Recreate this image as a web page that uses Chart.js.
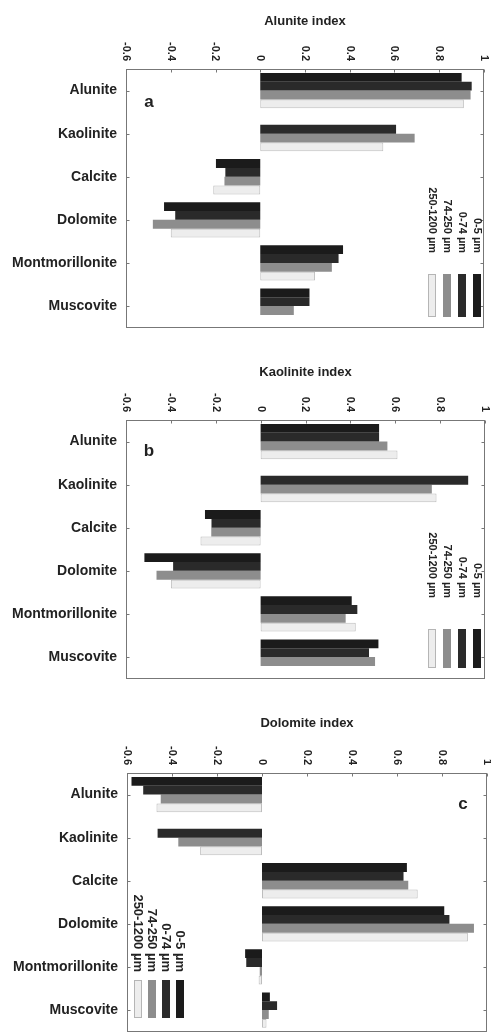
<!DOCTYPE html>
<html><head><meta charset="utf-8">
<script src="https://cdn.jsdelivr.net/npm/chart.js@4/dist/chart.umd.min.js"></script>
<style>
html,body{margin:0;padding:0;background:#fff;overflow:hidden;width:491px;height:1032px;}
.p{position:absolute;left:0;width:491px;height:345px;}
canvas{display:block;}
</style></head><body>
<div class="p" style="top:0px"><canvas id="ca" width="491" height="345"></canvas></div>
<div class="p" style="top:351px"><canvas id="cb" width="491" height="345"></canvas></div>
<div class="p" style="top:704px"><canvas id="cc" width="491" height="345"></canvas></div>
<script>
// ---- data ----
const categories = ['Alunite','Kaolinite','Calcite','Dolomite','Montmorillonite','Muscovite'];
const seriesLabels = ['0-5 µm','0-74 µm','74-250 µm','250-1200 µm'];
const xTickValues = [-0.6,-0.4,-0.2,0,0.2,0.4,0.6,0.8,1];
const xTickLabels = ['-0.6','-0.4','-0.2','0','0.2','0.4','0.6','0.8','1'];

// panel a: Alunite index
const alunite_0_5      = [0.90, 0, -0.198, -0.43, 0.37, 0.22];
const alunite_0_74     = [0.945, 0.607, -0.156, -0.38, 0.35, 0.22];
const alunite_74_250   = [0.94, 0.69, -0.16, -0.48, 0.32, 0.15];
const alunite_250_1200 = [0.91, 0.55, -0.21, -0.40, 0.245, 0];

// panel b: Kaolinite index
const kaolinite_0_5      = [0.528, 0, -0.248, -0.518, 0.406, 0.525];
const kaolinite_0_74     = [0.528, 0.925, -0.219, -0.39, 0.431, 0.483];
const kaolinite_74_250   = [0.565, 0.763, -0.22, -0.464, 0.379, 0.51];
const kaolinite_250_1200 = [0.61, 0.784, -0.268, -0.40, 0.424, 0];

// panel c: Dolomite index
const dolomite_0_5      = [-0.58, 0, 0.644, 0.81, -0.075, 0.035];
const dolomite_0_74     = [-0.528, -0.464, 0.629, 0.833, -0.07, 0.067];
const dolomite_74_250   = [-0.45, -0.372, 0.65, 0.942, -0.01, 0.03];
const dolomite_250_1200 = [-0.469, -0.275, 0.692, 0.915, -0.015, 0.02];

// ---- styles ----
const fills   = ['#1b1b1b','#2a2a2a','#8d8d8d','#ededed'];
const borders = ['#1b1b1b','#2a2a2a','#8d8d8d','#bdbdbd'];
const FONT = "'Liberation Sans', Arial, sans-serif";

const decor = {
  id:'decor',
  afterDraw(chart, args, o){
    const {ctx, chartArea:a, scales:{x,y}} = chart;
    ctx.save();
    const L = Math.round(a.left)+0.5, R = Math.round(a.right)-0.5, T = Math.round(a.top)+0.5, B = Math.round(a.bottom)-0.5;
    ctx.strokeStyle = '#777'; ctx.lineWidth = 1;
    ctx.strokeRect(L, T, R-L, B-T);
    ctx.beginPath();
    xTickValues.forEach(v=>{
      const px = Math.round(x.getPixelForValue(v))+0.5;
      ctx.moveTo(px, T); ctx.lineTo(px, T+3);
    });
    categories.forEach((c,i)=>{
      const py = Math.round(y.getPixelForValue(i))+0.5;
      ctx.moveTo(L, py); ctx.lineTo(L+3, py);
      ctx.moveTo(R, py); ctx.lineTo(R-3, py);
    });
    ctx.stroke();
    // rotated tick labels
    ctx.fillStyle = '#222';
    ctx.font = 'bold 11px ' + FONT;
    ctx.textAlign = 'right'; ctx.textBaseline = 'middle';
    xTickValues.forEach((v,i)=>{
      const px = x.getPixelForValue(v);
      ctx.save(); ctx.translate(px, a.top-8); ctx.rotate(Math.PI/2);
      ctx.fillText(xTickLabels[i], 0, 0); ctx.restore();
    });
    // title
    ctx.font = 'bold 13px ' + FONT;
    ctx.textAlign = 'center';
    ctx.fillText(o.title, (a.left+a.right)/2, o.titleY);
    // panel letter
    ctx.font = 'bold 17px ' + FONT;
    ctx.fillText(o.letter, o.letterX, o.letterY);
    // legend
    ctx.font = 'bold ' + o.legFont + 'px ' + FONT;
    ctx.textAlign = 'right';
    chart.data.datasets.forEach((ds,i)=>{
      const lx = o.legX[i];
      ctx.save(); ctx.translate(lx, o.legTextEnd); ctx.rotate(Math.PI/2);
      ctx.fillStyle = '#222';
      ctx.fillText(ds.label, 0, 0); ctx.restore();
      ctx.fillStyle = ds.backgroundColor;
      ctx.fillRect(lx-4, o.swY, 8, o.swH);
      if (i === 3){ ctx.strokeStyle = '#b5b5b5'; ctx.strokeRect(lx-3.5, o.swY+0.5, 7, o.swH-1); }
    });
    ctx.restore();
  }
};

function makePanel(id, series, opts){
  return new Chart(document.getElementById(id), {
    type:'bar',
    data:{
      labels: categories,
      datasets: series.map((d,i)=>({
        label: seriesLabels[i], data: d,
        backgroundColor: fills[i], borderColor: borders[i],
        borderWidth: i===3 ? 1 : 0, borderSkipped: false
      }))
    },
    options:{
      indexAxis:'y', responsive:false, animation:false,
      categoryPercentage:0.82, barPercentage:1.0,
      layout:{autoPadding:false, padding:{top:0,left:0,right:opts.padRight,bottom:12}},
      scales:{
        x:{ position:'top', min:-0.6, max:1,
            ticks:{display:false, stepSize:0.2},
            grid:{display:false}, border:{display:false},
            afterFit(s){ s.height = 69; } },
        y:{ position:'left',
            ticks:{color:'#222', padding:9, font:{family:FONT, size:14, weight:'bold'}},
            grid:{display:false, drawTicks:false}, border:{display:false},
            afterFit(s){ s.width = opts.leftW; } }
      },
      plugins:{ legend:{display:false}, tooltip:{enabled:false}, decor: opts.decor }
    },
    plugins:[decor]
  });
}

makePanel('ca', [alunite_0_5, alunite_0_74, alunite_74_250, alunite_250_1200], {
  padRight:7, leftW:126,
  decor:{title:'Alunite index', titleY:21, letter:'a', letterX:149, letterY:102,
         legX:[477,462,447,432], legTextEnd:253, swY:274, swH:43, legFont:11}
});
makePanel('cb', [kaolinite_0_5, kaolinite_0_74, kaolinite_74_250, kaolinite_250_1200], {
  padRight:6, leftW:126,
  decor:{title:'Kaolinite index', titleY:21, letter:'b', letterX:149, letterY:100,
         legX:[477,462,447,432], legTextEnd:247, swY:278, swH:39, legFont:11}
});
makePanel('cc', [dolomite_0_5, dolomite_0_74, dolomite_74_250, dolomite_250_1200], {
  padRight:4, leftW:127,
  decor:{title:'Dolomite index', titleY:19, letter:'c', letterX:463, letterY:100,
         legX:[180,166,152,138], legTextEnd:268, swY:276, swH:38, legFont:13}
});
</script>
</body></html>
